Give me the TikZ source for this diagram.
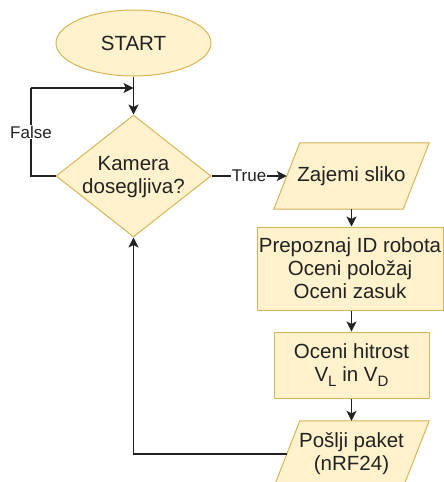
\documentclass[tikz,border=0pt]{standalone}
\usepackage{fontspec}
\setmainfont{Liberation Sans}
\usetikzlibrary{shapes.geometric,arrows.meta,backgrounds}
\definecolor{nfill}{HTML}{FFF2CC}
\definecolor{nline}{HTML}{D6B656}
\definecolor{ink}{HTML}{222222}
\newcommand{\mysub}[1]{\raisebox{-0.45ex}{\fontsize{15}{15}\selectfont #1}}
\tikzset{
  shapebox/.style={draw=nline,fill=nfill,line width=1pt,text=ink,font=\fontsize{20.5}{23}\selectfont,align=center,inner sep=0pt},
  txtonly/.style={text=ink,font=\fontsize{20.5}{23}\selectfont,align=center,inner sep=0pt},
  paranode/.style={text=ink,font=\fontsize{20.5}{23}\selectfont,align=center,inner sep=0pt,minimum width=129pt,minimum height=66pt},
  arr/.style={draw=ink,line width=1.3pt,-{Stealth[length=10pt,width=10pt,inset=2.5pt]}},
  lbl/.style={fill=white,text=ink,font=\fontsize{17}{20}\selectfont,inner sep=1pt}
}
\begin{document}
\begin{tikzpicture}[x=1pt,y=-1pt]
\useasboundingbox (0,0) rectangle (444,482);
\clip (0,0) rectangle (444,482);

\node[shapebox,ellipse,minimum width=155pt,minimum height=66pt] (start) at (133.5,43) {START};
\node[shapebox,diamond,minimum width=155pt,minimum height=122pt,
  label={[txtonly,yshift=-1pt]center:Kamera\\dosegljiva?}] (dec) at (133.5,176) {};

\node[paranode] (p1) at (351.5,176) {Zajemi sliko};
\node[shapebox,minimum width=186pt,minimum height=83pt] (b2) at (350,268.5) {Prepoznaj ID robota\\Oceni položaj\\Oceni zasuk};
\node[shapebox,minimum width=155pt,minimum height=66pt] (b3) at (351.5,365) {Oceni hitrost\\V\mysub{L} in V\mysub{D}};
\node[paranode] (p2) at (351.5,454) {Pošlji paket\\(nRF24)};

\begin{pgfonlayer}{background}
\foreach \n in {p1,p2}{
  \draw[draw=nline,fill=nfill,line width=1pt]
    ([xshift=13pt]\n.north west) -- ([xshift=13pt]\n.north east) --
    ([xshift=-13pt]\n.south east) -- ([xshift=-13pt]\n.south west) -- cycle;
}
\end{pgfonlayer}

\coordinate (fl) at (31,176);
\coordinate (fj) at (133.5,88);

\draw[arr] (start.south) -- (dec.north);
\draw[draw=ink,line width=1.3pt] (dec.west) -- (fl) -- (fl |- fj) node[pos=0.5,lbl] {False};
\draw[arr] (fl |- fj) -- (fj);
\draw[arr] (dec.east) -- node[lbl] {True} (p1.west);
\draw[arr] (p1.south) -- (p1.south |- b2.north);
\draw[arr] (b2.south -| p1.south) -- (b3.north);
\draw[arr] (b3.south) -- (p2.north);
\draw[arr] (p2.west) -| (dec.south);
\end{tikzpicture}
\end{document}
